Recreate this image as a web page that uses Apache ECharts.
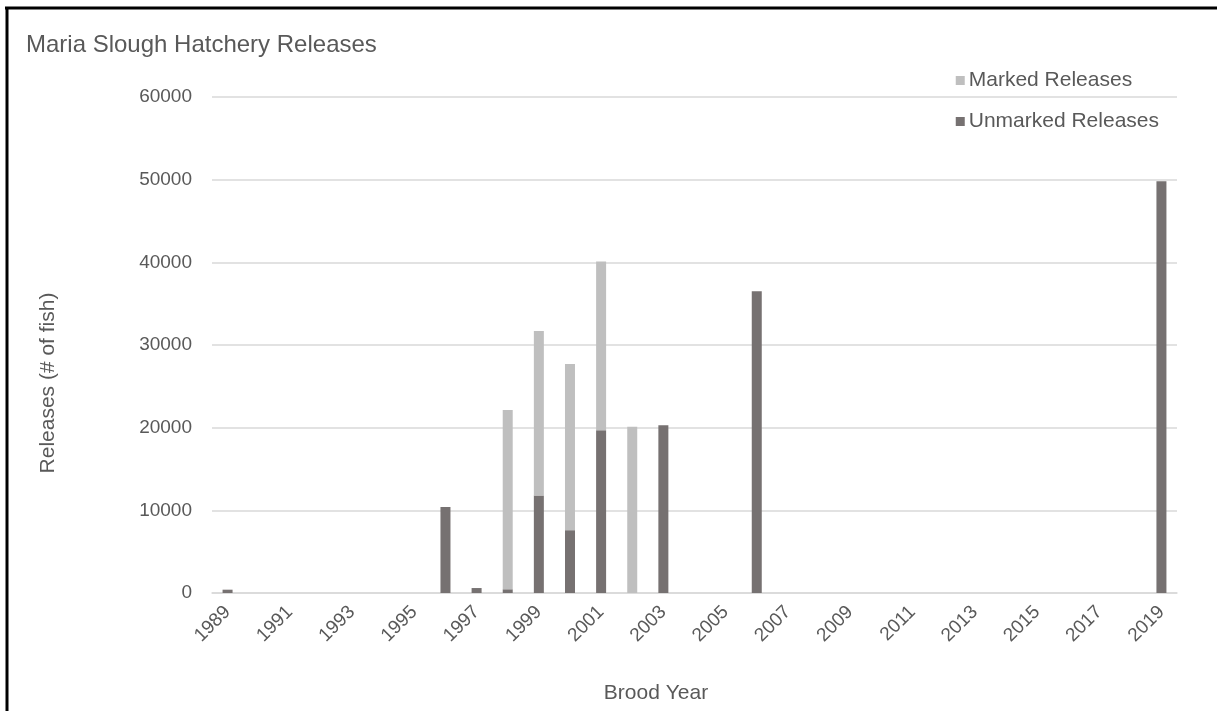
<!DOCTYPE html>
<html>
<head>
<meta charset="utf-8">
<title>Maria Slough Hatchery Releases</title>
<script src="https://cdn.jsdelivr.net/npm/echarts@6/dist/echarts.min.js"></script>
<style>
  html, body { margin: 0; padding: 0; background: #ffffff; }
  #chart { width: 1217px; height: 711px; }
</style>
</head>
<body>
<div id="chart"></div>
<script>
// Brood years on the category axis
const broodYears = [
  '1989', '1990', '1991', '1992', '1993', '1994', '1995', '1996',
  '1997', '1998', '1999', '2000', '2001', '2002', '2003', '2004',
  '2005', '2006', '2007', '2008', '2009', '2010', '2011', '2012',
  '2013', '2014', '2015', '2016', '2017', '2018', '2019'
];

// Unmarked releases (# of fish), one entry per brood year
const unmarkedReleases = [
  400, null, null, null, null, null, null, 10400,
  600, 450, 11800, 7600, 19700, null, 20300, null,
  null, 36500, null, null, null, null, null, null,
  null, null, null, null, null, null, 49800
];

// Marked releases (# of fish), stacked on top of the unmarked releases
const markedReleases = [
  null, null, null, null, null, null, null, null,
  null, 21700, 19900, 20100, 20400, 20100, null, null,
  null, null, null, null, null, null, null, null,
  null, null, null, null, null, null, null
];

// Value-axis ticks
const yTicks = { min: 0, max: 60000, interval: 10000 };

const textColor = '#595959';
const fontFamily = 'Liberation Sans, Arial, sans-serif';
const labelSize = 19;
const axisTitleSize = 21;

const chart = echarts.init(document.getElementById('chart'), null, { renderer: 'canvas' });

chart.setOption({
  animation: false,
  backgroundColor: '#ffffff',
  textStyle: { fontFamily: fontFamily, color: textColor },
  title: {
    text: 'Maria Slough Hatchery Releases',
    left: 21,
    top: 28,
    textStyle: { fontFamily: fontFamily, fontSize: 24, fontWeight: 'normal', color: textColor }
  },
  legend: {
    orient: 'vertical',
    right: 53,
    top: 65,
    itemGap: 20,
    itemWidth: 9,
    itemHeight: 9,
    icon: 'rect',
    data: ['Marked Releases', 'Unmarked Releases'],
    textStyle: { fontFamily: fontFamily, fontSize: 21, color: textColor, padding: [0, 0, 0, -1] }
  },
  grid: { left: 212, right: 40, top: 97, bottom: 118, containLabel: false },
  xAxis: {
    type: 'category',
    data: broodYears,
    axisLine: { show: true, lineStyle: { color: '#D9D9D9', width: 1.5 } },
    axisTick: { show: false },
    axisLabel: {
      interval: 1,
      rotate: 45,
      margin: 16,
      fontFamily: fontFamily,
      fontSize: labelSize,
      color: textColor
    }
  },
  yAxis: {
    type: 'value',
    min: yTicks.min,
    max: yTicks.max,
    interval: yTicks.interval,
    axisLine: { show: false },
    axisTick: { show: false },
    splitLine: { lineStyle: { color: '#D9D9D9', width: 1.5 } },
    axisLabel: {
      margin: 20,
      fontFamily: fontFamily,
      fontSize: labelSize,
      color: textColor,
      formatter: function (v) { return String(v); }
    }
  },
  graphic: [
    // y-axis title, reading bottom to top
    {
      type: 'text',
      x: 48,
      y: 383,
      rotation: Math.PI / 2,
      style: {
        text: 'Releases (# of fish)',
        font: axisTitleSize + 'px ' + fontFamily,
        fill: textColor,
        align: 'center',
        verticalAlign: 'middle'
      }
    },
    // x-axis title
    {
      type: 'text',
      x: 656,
      y: 693,
      style: {
        text: 'Brood Year',
        font: axisTitleSize + 'px ' + fontFamily,
        fill: textColor,
        align: 'center',
        verticalAlign: 'middle'
      }
    },
    // frame edges (top and left)
    { type: 'line', shape: { x1: 5, y1: 8, x2: 1217, y2: 8 }, style: { stroke: '#000000', lineWidth: 3 } },
    { type: 'line', shape: { x1: 7, y1: 7, x2: 7, y2: 711 }, style: { stroke: '#000000', lineWidth: 3 } }
  ],
  series: [
    {
      name: 'Unmarked Releases',
      type: 'bar',
      stack: 'releases',
      data: unmarkedReleases,
      barWidth: 10,
      itemStyle: { color: '#767171' }
    },
    {
      name: 'Marked Releases',
      type: 'bar',
      stack: 'releases',
      data: markedReleases,
      barWidth: 10,
      itemStyle: { color: '#BFBFBF' }
    }
  ]
});
</script>
</body>
</html>
